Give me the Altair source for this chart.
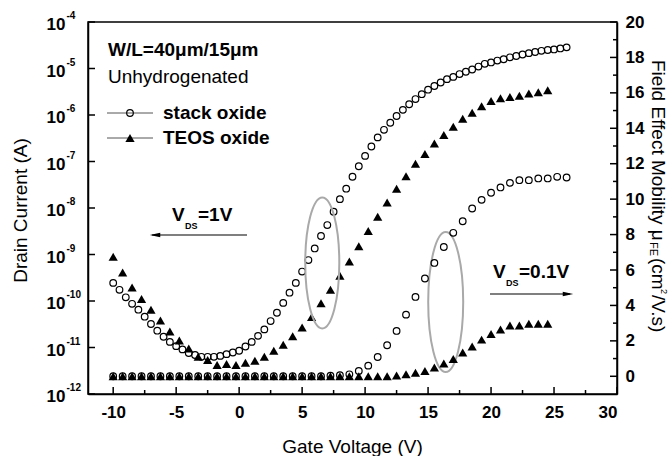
import altair as alt
import pandas as pd

FONT = "Liberation Sans"

# ---------------- data ----------------
gate_half = [-10.0, -9.5, -9.0, -8.5, -8.0, -7.5, -7.0, -6.5, -6.0, -5.5,
             -5.0, -4.5, -4.0, -3.5, -3.0, -2.5, -2.0, -1.5, -1.0, -0.5,
             0.0, 0.5, 1.0, 1.5, 2.0, 2.5, 3.0, 3.5, 4.0, 4.5,
             5.0, 5.5, 6.0, 6.5, 7.0, 7.5, 8.0, 8.5, 9.0, 9.5,
             10.0, 10.5, 11.0, 11.5, 12.0, 12.5, 13.0, 13.5, 14.0, 14.5,
             15.0, 15.5, 16.0, 16.5, 17.0, 17.5, 18.0, 18.5, 19.0, 19.5,
             20.0, 20.5, 21.0, 21.5, 22.0, 22.5, 23.0, 23.5, 24.0, 24.5,
             25.0, 25.5, 26.0]

gate_step = [-10.0, -9.25, -8.5, -7.75, -7.0, -6.25, -5.5, -4.75, -4.0, -3.25,
             -2.5, -1.75, -1.0, -0.25, 0.5, 1.25, 2.0, 2.75, 3.5, 4.25,
             5.0, 5.75, 6.5, 7.25, 8.0, 8.75, 9.5, 10.25, 11.0, 11.75,
             12.5, 13.25, 14.0, 14.75, 15.5, 16.25, 17.0, 17.75, 18.5, 19.25,
             20.0, 20.75, 21.5, 22.25, 23.0, 23.75, 24.5, 25.25, 26.0]

# drain current at VDS = 1 V (A)
stack_id = [2.45e-10, 1.74e-10, 1.20e-10, 8.7e-11, 6.5e-11, 4.6e-11, 3.2e-11, 2.3e-11, 1.7e-11, 1.32e-11,
            1.07e-11, 9.1e-12, 7.6e-12, 6.9e-12, 6.3e-12, 6.3e-12, 6.3e-12, 6.6e-12, 7.2e-12, 7.8e-12,
            8.5e-12, 1.05e-11, 1.32e-11, 1.78e-11, 2.45e-11, 3.7e-11, 5.6e-11, 9.1e-11, 1.51e-10, 2.45e-10,
            4.3e-10, 7.6e-10, 1.35e-9, 2.5e-9, 4.3e-9, 8.3e-9, 1.55e-8, 2.6e-8, 4.7e-8, 7.9e-8,
            1.32e-7, 2.1e-7, 3.3e-7, 4.8e-7, 6.8e-7, 9.5e-7, 1.29e-6, 1.70e-6, 2.2e-6, 2.8e-6,
            3.5e-6, 4.2e-6, 5.0e-6, 5.9e-6, 6.6e-6, 7.6e-6, 8.5e-6, 9.5e-6, 1.10e-5, 1.26e-5,
            1.35e-5, 1.48e-5, 1.58e-5, 1.74e-5, 1.86e-5, 2.0e-5, 2.14e-5, 2.26e-5, 2.4e-5, 2.5e-5,
            2.57e-5, 2.7e-5, 2.85e-5]

teos_id = [8.9e-10, 4.1e-10, 1.95e-10, 1.10e-10, 6.5e-11, 3.8e-11, 2.2e-11, 1.41e-11, 9.5e-12, 6.3e-12,
           5.4e-12, 4.2e-12, 4.4e-12, 4.2e-12, 4.7e-12, 5.2e-12, 6.3e-12, 8.5e-12, 1.15e-11, 1.74e-11,
           2.7e-11, 4.5e-11, 8.9e-11, 1.74e-10, 3.5e-10, 7.1e-10, 1.51e-9, 3.2e-9, 6.5e-9, 1.32e-8,
           2.6e-8, 4.8e-8, 8.9e-8, 1.45e-7, 2.45e-7, 3.7e-7, 5.6e-7, 8.3e-7, 1.12e-6, 1.55e-6,
           2.0e-6, 2.3e-6, 2.45e-6, 2.6e-6, 2.9e-6, 3.1e-6, 3.4e-6]

# field effect mobility at VDS = 0.1 V (cm2/V.s)
stack_mu = [0.0, 0.0, 0.0, 0.0, 0.0, 0.0, 0.0, 0.0, 0.0, 0.0,
            0.0, 0.0, 0.0, 0.0, 0.0, 0.0, 0.0, 0.0, 0.0, 0.0,
            0.0, 0.0, 0.0, 0.03, 0.06, 0.11, 0.3, 0.6, 1.09, 1.75,
            2.56, 3.48, 4.48, 5.52, 6.4, 7.3, 8.1, 8.75, 9.47, 9.96,
            10.36, 10.66, 10.92, 11.07, 11.07, 11.17, 11.17, 11.26, 11.22]

teos_mu = [0.0, 0.0, 0.0, 0.0, 0.0, 0.0, 0.0, 0.0, 0.0, 0.0,
           0.0, 0.0, 0.0, 0.0, 0.0, 0.0, 0.0, 0.0, 0.0, 0.0,
           0.0, 0.0, 0.0, 0.0, 0.0, 0.0, 0.0, 0.0, 0.0, 0.0,
           0.04, 0.11, 0.2, 0.3, 0.49, 0.72, 0.97, 1.34, 1.68, 2.07,
           2.39, 2.64, 2.87, 2.87, 2.96, 2.96, 2.96]

x_major = [-10, -5, 0, 5, 10, 15, 20, 25, 30]
x_minor = [-7.5, -2.5, 2.5, 7.5, 12.5, 17.5, 22.5, 27.5]
decade_vals = [1e-12, 1e-11, 1e-10, 1e-9, 1e-8, 1e-7, 1e-6, 1e-5, 1e-4]
decade_exps = ["-12", "-11", "-10", "-9", "-8", "-7", "-6", "-5", "-4"]
mu_major = [0, 2, 4, 6, 8, 10, 12, 14, 16, 18, 20]
mu_minor = [1, 3, 5, 7, 9, 11, 13, 15, 17, 19]

# ellipse markers (centre gate voltage, centre mobility)
ellipse1 = {"V": [6.6], "mu": [6.4]}
ellipse2 = {"V": [16.4], "mu": [4.2]}

assert len(gate_half) == len(stack_id)
assert len(gate_step) == len(stack_mu)
assert len(teos_id) == len(teos_mu) == 47

W, H = 529, 372

df_stack_id = pd.DataFrame({"V": gate_half, "I": stack_id})
df_teos_id = pd.DataFrame({"V": gate_step[:47], "I": teos_id})
df_stack_mu = pd.DataFrame({"V": gate_step, "mu": stack_mu})
df_teos_mu = pd.DataFrame({"V": gate_step[:47], "mu": teos_mu})

x_scale = alt.Scale(domain=[-12, 30], nice=False, zero=False)
x_axis = alt.Axis(values=x_major, grid=False, ticks=False, tickSize=0, labelPadding=10,
                  labelFontSize=17, labelFontWeight="bold", labelExpr="datum.value + ''",
                  title="")
xenc = alt.X("V:Q", scale=x_scale, axis=x_axis)

yl_scale = alt.Scale(type="log", domain=[1e-12, 1e-4], nice=False)
yl_axis = alt.Axis(values=decade_vals, labels=False, ticks=False, tickSize=0, grid=False,
                   title="Drain Current (A)", titleFontSize=19, titleFontWeight="normal",
                   titleAngle=270, titleX=-68, titleY=188, titleAlign="center",
                   titleBaseline="middle")
ylenc = alt.Y("I:Q", scale=yl_scale, axis=yl_axis)

yr_scale = alt.Scale(domain=[-1, 20], nice=False, zero=False)
yr_axis = alt.Axis(orient="right", values=mu_major, grid=False, ticks=False, tickSize=0,
                   labelPadding=8, labelFontSize=17, labelFontWeight="bold", title="")
yrenc = alt.Y("mu:Q", scale=yr_scale, axis=yr_axis)

ELL1 = ("M0,-1 C0.1436,-1 0.26,-0.5523 0.26,0 C0.26,0.5523 0.1436,1 0,1 "
        "C-0.1436,1 -0.26,0.5523 -0.26,0 C-0.26,-0.5523 -0.1436,-1 0,-1 Z")
ELL2 = ("M0,-1 C0.1381,-1 0.25,-0.5523 0.25,0 C0.25,0.5523 0.1381,1 0,1 "
        "C-0.1381,1 -0.25,0.5523 -0.25,0 C-0.25,-0.5523 -0.1381,-1 0,-1 Z")
ARROW_L = "M-1,0 L1,-0.45 L1,0.45 Z"
ARROW_R = "M1,0 L-1,-0.45 L-1,0.45 Z"


def label(txt, x, y, size, bold=False, angle=0, align="left"):
    kw = dict(align=align, baseline="middle", fontSize=size, font=FONT,
              fontWeight="bold" if bold else "normal", color="black")
    if angle:
        kw["angle"] = angle
    return alt.Chart(pd.DataFrame({"t": [txt]})).mark_text(**kw).encode(
        x=alt.value(x), y=alt.value(y), text="t:N")


def hline(x1, x2, y, color="black", width=1.2):
    return alt.Chart(pd.DataFrame({"a": [0]})).mark_rule(color=color, strokeWidth=width).encode(
        x=alt.value(x1), x2=alt.value(x2), y=alt.value(y))


def sym(shape, x, y, size, filled=True):
    kw = dict(shape=shape, size=size, filled=filled, color="black", opacity=1)
    if not filled:
        kw["strokeWidth"] = 1.2
    return alt.Chart(pd.DataFrame({"a": [0]})).mark_point(**kw).encode(
        x=alt.value(x), y=alt.value(y))


# ---------------- left (drain current) layer ----------------
stack_id_pts = alt.Chart(df_stack_id).mark_point(
    shape="circle", size=44, filled=False, color="black", strokeWidth=1.2, opacity=1
).encode(x=xenc, y=ylenc)

teos_id_pts = alt.Chart(df_teos_id).mark_point(
    shape="triangle-up", size=85, filled=True, color="black", opacity=1
).encode(x=xenc, y=ylenc)

df_dec = pd.DataFrame({"I": decade_vals, "e": decade_exps})
left_ticks = alt.Chart(df_dec).mark_rule(color="black", strokeWidth=1.5).encode(
    y=ylenc, x=alt.value(0), x2=alt.value(7))
left_ten = alt.Chart(df_dec).mark_text(
    align="right", baseline="middle", fontSize=17, fontWeight="bold", font=FONT, dy=3, color="black"
).encode(y=ylenc, x=alt.value(-22.5), text=alt.value("10"))
left_exp = alt.Chart(df_dec).mark_text(
    align="left", baseline="middle", fontSize=10, fontWeight="bold", font=FONT, dy=-6, color="black"
).encode(y=ylenc, x=alt.value(-21.5), text="e:N")

x_ticks_major = alt.Chart(pd.DataFrame({"V": x_major})).mark_rule(
    color="black", strokeWidth=1.5).encode(x=xenc, y=alt.value(H), y2=alt.value(H - 7))
x_ticks_minor = alt.Chart(pd.DataFrame({"V": x_minor})).mark_rule(
    color="black", strokeWidth=1.5).encode(x=xenc, y=alt.value(H), y2=alt.value(H - 4))

left = alt.layer(x_ticks_major, x_ticks_minor, left_ticks, left_ten, left_exp,
                 stack_id_pts, teos_id_pts)

# ---------------- right (mobility) layer ----------------
stack_mu_pts = alt.Chart(df_stack_mu).mark_point(
    shape="circle", size=44, filled=False, color="black", strokeWidth=1.2, opacity=1
).encode(x=xenc, y=yrenc)
teos_mu_pts = alt.Chart(df_teos_mu).mark_point(
    shape="triangle-up", size=85, filled=True, color="black", opacity=1
).encode(x=xenc, y=yrenc)

right_major = alt.Chart(pd.DataFrame({"mu": mu_major})).mark_rule(
    color="black", strokeWidth=1.5).encode(y=yrenc, x=alt.value(W), x2=alt.value(W - 7))
right_minor = alt.Chart(pd.DataFrame({"mu": mu_minor})).mark_rule(
    color="black", strokeWidth=1.5).encode(y=yrenc, x=alt.value(W), x2=alt.value(W - 4))

ell1 = alt.Chart(pd.DataFrame(ellipse1)).mark_point(
    shape=ELL1, filled=False, color="#a9a9a9", strokeWidth=2, opacity=1
).encode(x=xenc, y=yrenc, size=alt.value(131 * 131))
ell2 = alt.Chart(pd.DataFrame(ellipse2)).mark_point(
    shape=ELL2, filled=False, color="#a9a9a9", strokeWidth=2, opacity=1
).encode(x=xenc, y=yrenc, size=alt.value(140 * 140))

right = alt.layer(right_major, right_minor, ell1, ell2, stack_mu_pts, teos_mu_pts)

# ---------------- annotations (pixel positions inside the chart) ----------------
notes = [
    label("Gate Voltage (V)", W / 2, 425, 19, align="center"),
    label("W/L=40\u03bcm/15\u03bcm", 20, 28, 19, bold=True),
    label("Unhydrogenated", 20, 55, 19),
    hline(19, 65, 91, color="#555555", width=1),
    sym("circle", 42, 91, 44, filled=False),
    label("stack oxide", 75, 91, 19, bold=True),
    hline(19, 65, 116, color="#555555", width=1),
    sym("triangle-up", 42, 116, 85),
    label("TEOS oxide", 75, 116, 19, bold=True),
    # VDS = 1 V
    label("V", 84, 193, 19, bold=True),
    label("DS", 97, 204, 9, bold=True),
    label("=1V", 110, 193, 19, bold=True),
    hline(64, 159, 213, width=1.2),
    sym(ARROW_L, 67, 213, 110),
    # VDS = 0.1 V
    label("V", 405, 250, 19, bold=True),
    label("DS", 418, 261, 9, bold=True),
    label("=0.1V", 431, 250, 19, bold=True),
    hline(402, 482, 272, width=1.2),
    sym(ARROW_R, 480, 272, 110),
    # right axis title
    label("Field Effect Mobility \u03bc", 570, 38, 19, angle=90),
    label("FE", 565, 220, 11, angle=90),
    label("(cm", 570, 236, 19, angle=90),
    label("2", 576, 267, 9, angle=90),
    label("/V.s)", 570, 273, 19, angle=90),
]

chart = alt.layer(left, right, *notes).resolve_scale(y="independent").properties(
    width=W, height=H,
    autosize=alt.AutoSizeParams(type="none"),
    padding={"left": 88, "top": 22, "right": 51, "bottom": 62},
    background="white",
).configure_axis(
    domainColor="black", domainWidth=1.5, labelColor="black", titleColor="black",
    labelFont=FONT, titleFont=FONT,
).configure_view(stroke="black", strokeWidth=1.5)

chart.save("out.html", embed_options={"renderer": "svg", "actions": False})
